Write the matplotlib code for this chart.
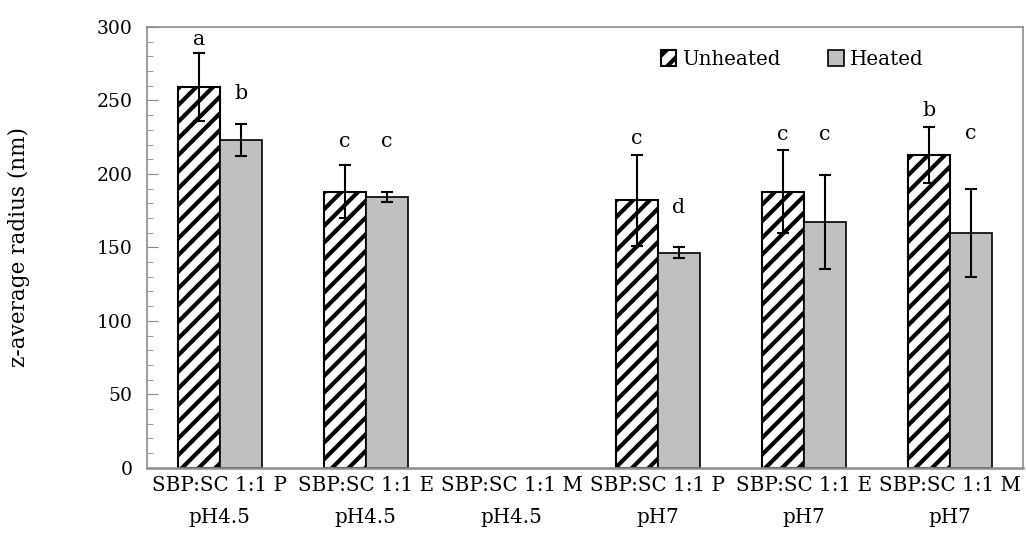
import matplotlib
matplotlib.use("Agg")
import matplotlib.pyplot as plt
import numpy as np

categories = ["SBP:SC 1:1 P\npH4.5", "SBP:SC 1:1 E\npH4.5", "SBP:SC 1:1 M\npH4.5",
              "SBP:SC 1:1 P\npH7", "SBP:SC 1:1 E\npH7", "SBP:SC 1:1 M\npH7"]
unheated = [259, 188, 0, 182, 188, 213]
unheated_err = [23, 18, 0, 31, 28, 19]
heated = [223, 184.5, 0, 146.5, 167.5, 160]
heated_err = [11, 3.5, 0, 4, 32, 30]
unheated_letters = ["a", "c", "", "c", "c", "b"]
heated_letters = ["b", "c", "", "d", "c", "c"]
# baseline heights (data units) of the significance letters
unheated_letter_y = [288, 218.5, 0, 220.5, 223, 239.5]
heated_letter_y = [251, 218.5, 0, 173.5, 223, 223.5]

plt.rcParams['font.family'] = ['DejaVu Serif']
plt.rcParams['hatch.linewidth'] = 3.0
FS = 14.3

fig = plt.figure(figsize=(10.26, 5.51), dpi=100)
ax = fig.add_axes([0.143, 0.151, 0.854, 0.800])

x = np.arange(len(categories))
w = 0.288
ekw = dict(ecolor='black', elinewidth=1.5, capthick=1.5)
u_edge = ['black' if v > 0 else 'none' for v in unheated]
h_edge = ['black' if v > 0 else 'none' for v in heated]
b1 = ax.bar(x - w/2, unheated, w, color='white', edgecolor=u_edge, hatch='//',
            linewidth=1.5, label='Unheated')
b2 = ax.bar(x + w/2, heated, w, color='#c0c0c0', edgecolor=h_edge,
            linewidth=1.2, label='Heated')
for xi, v, e in zip(x, unheated, unheated_err):
    if v > 0:
        ax.errorbar(xi - w/2, v, yerr=e, fmt='none', capsize=4.5, **ekw)
for xi, v, e in zip(x, heated, heated_err):
    if v > 0:
        ax.errorbar(xi + w/2, v, yerr=e, fmt='none', capsize=4.5, **ekw)

for xi, ly, t in zip(x, unheated_letter_y, unheated_letters):
    if t:
        ax.text(xi - w/2, ly, t, ha='center', va='baseline', fontsize=FS + 0.5)
for xi, ly, t in zip(x, heated_letter_y, heated_letters):
    if t:
        ax.text(xi + w/2, ly, t, ha='center', va='baseline', fontsize=FS + 0.5)

ax.set_xlim(-0.5, len(categories) - 0.5)
ax.set_ylim(0, 300)
ax.set_yticks(np.arange(0, 301, 50))
ax.set_yticks(np.arange(0, 301, 10), minor=True)
ax.set_xticks(x)
ax.set_xticklabels(categories, fontsize=FS, linespacing=1.85)
ax.tick_params(axis='y', which='major', direction='in', length=8, color='#888888', labelsize=13.5, pad=10)
ax.tick_params(axis='y', which='minor', direction='in', length=4, color='#888888')
ax.tick_params(axis='x', which='major', length=0, pad=6)
for s in ax.spines.values():
    s.set_color('#8c8c8c')
    s.set_linewidth(1.2)
ax.spines['bottom'].set_linewidth(1.8)
ax.set_ylabel('z-average radius (nm)', fontsize=15.5, labelpad=48)

leg = ax.legend(loc='upper right', bbox_to_anchor=(0.887, 0.948), ncol=2, frameon=False,
                fontsize=FS, handlelength=0.8, handleheight=0.8, handletextpad=0.3,
                columnspacing=2.4, borderpad=0, borderaxespad=0)

fig.savefig('out.png', dpi=100)
